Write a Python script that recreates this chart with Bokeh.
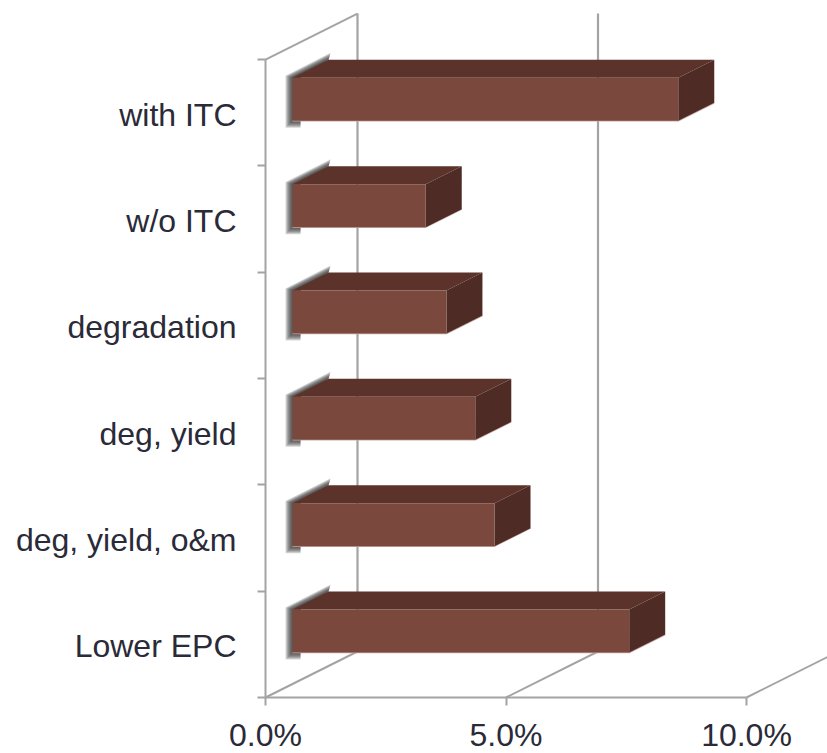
from bokeh.plotting import figure
from bokeh.models import Range1d, FixedTicker
from bokeh.embed import file_html
from bokeh.resources import INLINE

categories = ["Lower EPC", "deg, yield, o&m", "deg, yield", "degradation", "w/o ITC", "with ITC"]
values = [7.0, 4.2, 3.8, 3.2, 2.77, 8.02]
x_ticks = [0, 5, 10]
x_labels = ["0.0%", "5.0%", "10.0%"]

PX_X = 48.1      # pixels per percent
PX_Y = 106.33    # pixels per category
WALL_DX, WALL_DY = 92 / PX_X, 46 / PX_Y
BAR_X0 = 27 / PX_X
BAR_BOTTOM, BAR_H = 45 / PX_Y, 43 / PX_Y
DEPTH_X, DEPTH_Y = 36 / PX_X, 18 / PX_Y
GRID = "#a3a3a3"
TEXT = "#2a2a38"
FONT = "Liberation Sans"

p = figure(width=827, height=753, output_backend="svg", toolbar_location=None,
           x_range=Range1d(-265 / PX_X, 562 / PX_X), y_range=Range1d(-56 / PX_Y, 697 / PX_Y),
           min_border_left=0, min_border_right=0, min_border_top=0, min_border_bottom=0)
p.outline_line_color = None
p.grid.visible = False
p.background_fill_color = "white"

# axes
xa = p.xaxis[0]
xa.fixed_location = 0
xa.ticker = FixedTicker(ticks=x_ticks)
xa.major_label_overrides = {t: l for t, l in zip(x_ticks, x_labels)}
xa.bounds = (0, 10)
xa.major_tick_out, xa.major_tick_in = 8, 0
xa.minor_tick_out, xa.minor_tick_in = 0, 0
xa.major_label_standoff = 11
xa.major_label_text_font = FONT
xa.major_label_text_font_size = "32px"
xa.major_label_text_color = TEXT
xa.axis_line_color = GRID
xa.axis_line_width = 2
xa.major_tick_line_color = GRID
xa.major_tick_line_width = 2

ya = p.yaxis[0]
ya.fixed_location = 0
centers = [i + 0.48 for i in range(len(categories))]
ya.ticker = FixedTicker(ticks=centers, minor_ticks=list(range(len(categories) + 1)))
ya.major_label_overrides = {c: n for c, n in zip(centers, categories)}
ya.bounds = (0, len(categories))
ya.major_tick_line_color = None
ya.major_tick_out, ya.major_tick_in = 0, 0
ya.minor_tick_out, ya.minor_tick_in = 8, 0
ya.minor_tick_line_color = GRID
ya.minor_tick_line_width = 2
ya.major_label_standoff = 21
ya.major_label_text_font = FONT
ya.major_label_text_font_size = "32px"
ya.major_label_text_color = TEXT
ya.axis_line_color = GRID
ya.axis_line_width = 2

# 3-D walls and floor
n = len(categories)
p.segment(x0=[t for t in x_ticks], y0=[0] * 3,
          x1=[t + WALL_DX for t in x_ticks], y1=[WALL_DY] * 3,
          line_color=GRID, line_width=2)
p.segment(x0=[t + WALL_DX for t in x_ticks[:2]], y0=[WALL_DY] * 2,
          x1=[t + WALL_DX for t in x_ticks[:2]], y1=[n + WALL_DY] * 2,
          line_color=GRID, line_width=2.2)
p.segment(x0=[0], y0=[n], x1=[WALL_DX], y1=[n + WALL_DY], line_color=GRID, line_width=2)

# soft shadow at the left of every bar
for k in range(7, 0, -1):
    kx, ky = k / PX_X, k / PX_Y
    xs, ys = [], []
    for i in range(n):
        b = i + BAR_BOTTOM
        t = b + BAR_H
        x0 = BAR_X0
        xs.append([x0 - kx, x0 + 8 / PX_X, x0 + 8 / PX_X, x0 + DEPTH_X, x0 + DEPTH_X + kx * 0.3, x0 - kx])
        ys.append([b - ky, b - ky, t, t + DEPTH_Y, t + DEPTH_Y + ky, t + ky * 0.3])
    p.patches(xs, ys, fill_color="#303030", fill_alpha=0.2, line_color=None)

# bars: top, side and front faces
top_x, top_y, side_x, side_y, front_x, front_y = [], [], [], [], [], []
edge_x, edge_y = [], []
for i, v in enumerate(values):
    b = i + BAR_BOTTOM
    t = b + BAR_H
    x0 = BAR_X0
    x1 = BAR_X0 + v
    front_x.append([x0, x1, x1, x0])
    front_y.append([b, b, t, t])
    top_x.append([x0, x0 + DEPTH_X, x1 + DEPTH_X, x1])
    top_y.append([t, t + DEPTH_Y, t + DEPTH_Y, t])
    side_x.append([x1, x1 + DEPTH_X, x1 + DEPTH_X, x1])
    side_y.append([b, b + DEPTH_Y, t + DEPTH_Y, t])
    edge_x.append([x0, x1, x1 + DEPTH_X])
    edge_y.append([b, b, b + DEPTH_Y])
p.multi_line(edge_x, edge_y, line_color="#c9aba5", line_width=1.5)
p.patches(top_x, top_y, fill_color="#5b332a", line_color=None)
p.patches(side_x, side_y, fill_color="#4e2b24", line_color=None)
p.patches(front_x, front_y, fill_color="#7a483c", line_color=None)

open("out.html", "w").write(file_html(p, INLINE))
